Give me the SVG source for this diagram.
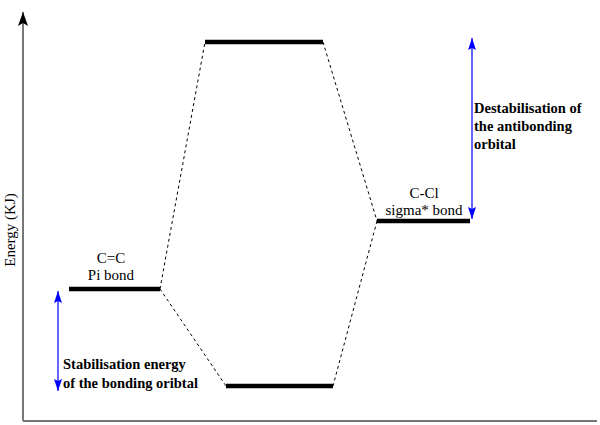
<svg xmlns="http://www.w3.org/2000/svg" width="600" height="425" viewBox="0 0 600 425">
<defs>
<marker id="axhead" viewBox="0 0 14 10" refX="14" refY="5" markerWidth="14" markerHeight="10" markerUnits="userSpaceOnUse" orient="auto-start-reverse">
<path d="M14,5 L0,10 L3,5 L0,0 Z" fill="#000"/>
</marker>
<marker id="bhead" viewBox="0 0 12 8" refX="12" refY="4" markerWidth="12" markerHeight="8" markerUnits="userSpaceOnUse" orient="auto-start-reverse">
<path d="M12,4 L0,8 L2,4 L0,0 Z" fill="#0000ff"/>
</marker>
</defs>
<style>
.lvl{stroke:#000;stroke-width:4.5;fill:none}
.dash{stroke:#000;stroke-width:1;stroke-dasharray:3,3;fill:none}
.axis{stroke:#777;stroke-width:2;fill:none}
.blue{stroke:#3333ff;stroke-width:1.5;fill:none}
.lbl{font-family:"Liberation Serif","DejaVu Serif",serif;font-size:15px;fill:#000}
.bold{font-family:"Liberation Serif","DejaVu Serif",serif;font-size:14.5px;font-weight:bold;fill:#000}
</style>
<rect width="600" height="425" fill="#fff"/>
<g id="axes">
<path class="axis" d="M23,421 L23,12" marker-end="url(#axhead)"/>
<path class="axis" d="M23,421 L597,421"/>
<text class="lbl" transform="translate(15,230) rotate(-90)" text-anchor="middle">Energy (KJ)</text>
</g>
<g id="connectors">
<path class="dash" d="M160,289 L205,42"/>
<path class="dash" d="M160,289 L226,386"/>
<path class="dash" d="M323,42 L377,221"/>
<path class="dash" d="M377,221 L333,386"/>
</g>
<g id="pi-bond">
<path class="lvl" d="M69,289 L160,289"/>
<text class="lbl" x="111" y="263" text-anchor="middle">C=C</text>
<text class="lbl" x="111" y="280" text-anchor="middle">Pi bond</text>
</g>
<g id="antibonding">
<path class="lvl" d="M205,42 L323,42"/>
</g>
<g id="bonding">
<path class="lvl" d="M226,386 L333,386"/>
</g>
<g id="ccl-sigma">
<path class="lvl" d="M377,221 L470,221"/>
<text class="lbl" x="424" y="198" text-anchor="middle">C-Cl</text>
<text class="lbl" x="424" y="215" text-anchor="middle">sigma* bond</text>
</g>
<g id="stabilisation">
<path class="blue" d="M58,291 L58,391" marker-start="url(#bhead)" marker-end="url(#bhead)"/>
<text class="bold" x="63" y="369">Stabilisation energy</text>
<text class="bold" x="63" y="388">of the bonding oribtal</text>
</g>
<g id="destabilisation">
<path class="blue" d="M472,38 L472,219" marker-start="url(#bhead)" marker-end="url(#bhead)"/>
<text class="bold" x="474" y="113">Destabilisation of</text>
<text class="bold" x="474" y="131">the antibonding</text>
<text class="bold" x="474" y="149">orbital</text>
</g>
</svg>
